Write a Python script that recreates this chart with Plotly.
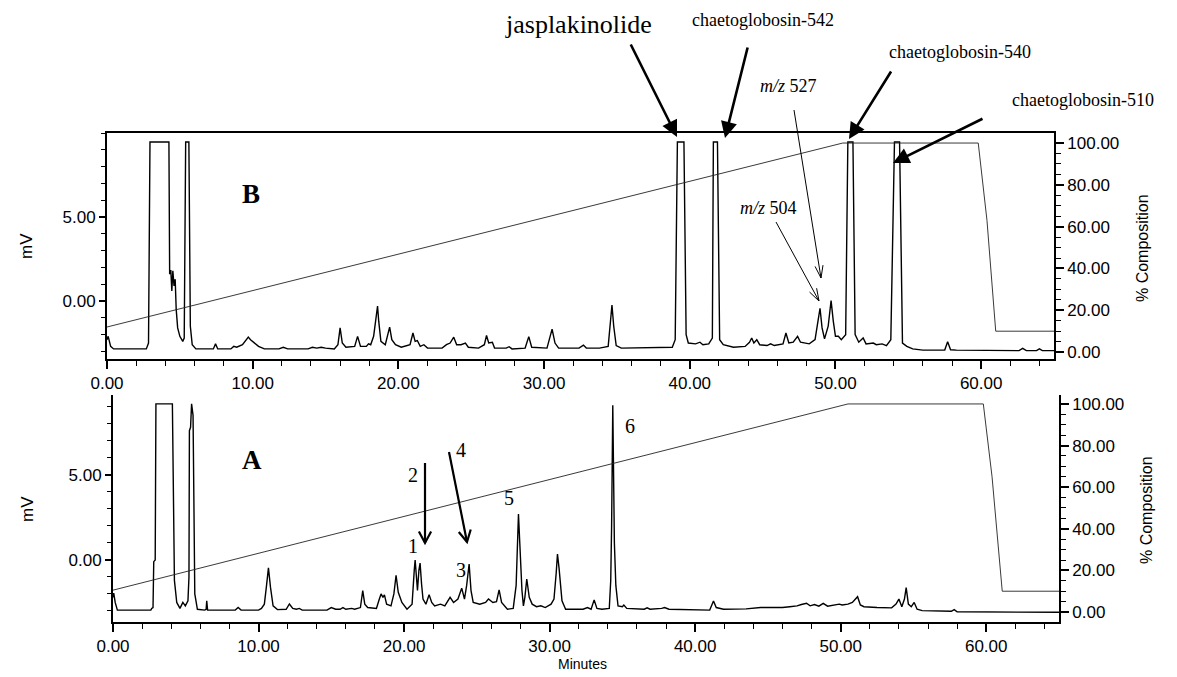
import math
import plotly.graph_objects as go

W, H = 1177, 677

# ---------------- data ----------------
# Panel B chromatogram: retention time (min) and detector response (mV)
b_time = [0.00, 0.08, 0.25, 0.45, 2.70, 2.85, 2.95, 4.25, 4.30, 4.38, 4.45, 4.52, 4.60, 4.68, 4.75, 4.85,
          5.00, 5.20, 5.30, 5.40, 5.62, 5.72, 5.85, 6.10, 7.30, 7.45, 7.60, 8.50, 8.70, 8.90, 9.30, 9.70,
          9.85, 10.10, 10.40, 10.80, 11.80, 12.10, 12.40, 13.80, 14.10, 14.40, 14.70, 15.00, 15.60, 15.85,
          16.00, 16.15, 16.40, 17.00, 17.20, 17.40, 17.80, 17.95, 18.10, 18.30, 18.50, 18.57, 18.65, 18.80,
          19.10, 19.40, 19.55, 19.80, 20.20, 20.80, 21.00, 21.15, 21.30, 21.50, 21.75, 22.00, 23.00, 23.30,
          23.55, 23.80, 24.00, 24.30, 24.60, 24.80, 25.50, 25.90, 26.05, 26.20, 26.45, 26.60, 27.40, 27.60,
          27.80, 28.70, 28.95, 29.15, 30.20, 30.40, 30.55, 30.75, 31.00, 32.40, 32.70, 32.90, 33.80, 34.40,
          34.55, 34.66, 34.78, 34.95, 35.30, 38.80, 39.00, 39.15, 39.60, 39.75, 39.90, 40.40, 40.70, 40.90,
          41.30, 41.55, 41.62, 41.90, 42.05, 42.30, 43.00, 43.80, 44.10, 44.25, 44.40, 44.60, 44.80, 45.30,
          45.55, 45.80, 46.40, 46.60, 46.80, 47.10, 47.40, 47.60, 48.20, 48.60, 48.80, 48.94, 49.08, 49.25,
          49.50, 49.70, 49.85, 50.00, 50.20, 50.40, 50.70, 50.85, 51.20, 51.35, 51.60, 51.90, 52.10, 52.60,
          52.80, 53.20, 53.50, 53.80, 54.05, 54.40, 54.60, 54.90, 55.30, 56.00, 57.50, 57.70, 57.90, 58.30,
          62.60, 62.85, 63.10, 63.80, 64.00, 64.20, 65.00]
b_mv = [-2.30, -2.10, -2.70, -2.85, -2.85, -2.50, 9.46, 9.46, 1.60, 1.85, 0.60, 1.80, 0.90, 1.30, -0.50, -1.60,
        -2.10, -2.40, -2.20, 9.46, 9.46, -1.50, -2.60, -2.85, -2.85, -2.55, -2.85, -2.85, -2.70, -2.75, -2.60, -2.15,
        -2.30, -2.50, -2.70, -2.85, -2.85, -2.75, -2.85, -2.85, -2.75, -2.80, -2.75, -2.80, -2.85, -2.60,
        -1.60, -2.50, -2.75, -2.70, -2.10, -2.70, -2.70, -2.55, -2.60, -2.10, -0.70, -0.30, -1.20, -2.40,
        -2.60, -1.55, -2.30, -2.60, -2.75, -2.60, -1.90, -2.40, -2.35, -2.70, -2.60, -2.80, -2.80, -2.60,
        -2.50, -2.15, -2.60, -2.60, -2.50, -2.75, -2.80, -2.60, -2.05, -2.50, -2.45, -2.80, -2.80, -2.72,
        -2.85, -2.80, -2.12, -2.75, -2.80, -2.20, -1.67, -2.50, -2.80, -2.80, -2.62, -2.80, -2.80, -2.70,
        -1.20, -0.24, -1.50, -2.65, -2.80, -2.75, -2.30, 9.46, 9.46, -2.00, -2.50, -2.55, -2.45, -2.60,
        -2.55, -2.20, 9.46, 9.46, -2.30, -2.60, -2.75, -2.70, -2.45, -2.20, -2.50, -2.30, -2.60, -2.65,
        -2.55, -2.65, -2.55, -1.90, -2.50, -2.45, -2.10, -2.45, -2.55, -2.30, -1.20, -0.43, -1.60, -2.25,
        -1.50, 0.02, -1.20, -2.10, -2.10, -2.30, -2.00, 9.46, 9.46, -2.00, -2.45, -2.20, -2.55, -2.50,
        -2.60, -2.55, -2.65, -2.30, 9.46, 9.46, -2.50, -2.70, -2.85, -2.92, -2.92, -2.42, -2.90, -2.92,
        -2.95, -2.82, -2.95, -2.95, -2.85, -2.95, -2.95]

# Panel A chromatogram
a_time = [0.00, 0.05, 0.15, 0.30, 2.60, 2.66, 2.75, 2.80, 2.90, 2.95, 4.08, 4.15, 4.22, 4.38, 4.60, 4.80,
          4.97, 5.15, 5.22, 5.25, 5.33, 5.40, 5.50, 5.62, 5.80, 6.30, 6.40, 6.44, 6.50, 8.40, 8.60, 8.80,
          10.00, 10.20, 10.40, 10.55, 10.68, 10.82, 11.00, 11.30, 11.90, 12.12, 12.35, 12.60, 12.80, 13.00,
          14.70, 15.00, 15.30, 15.60, 15.80, 16.00, 16.40, 16.60, 17.00, 17.16, 17.30, 17.50, 18.10, 18.30,
          18.42, 18.55, 18.65, 18.80, 19.10, 19.30, 19.45, 19.60, 19.85, 20.20, 20.55, 20.70, 20.76, 20.85,
          20.92, 21.02, 21.10, 21.20, 21.30, 21.50, 21.72, 21.90, 22.10, 22.50, 22.80, 23.16, 23.40, 23.70,
          23.96, 24.15, 24.30, 24.47, 24.60, 24.75, 25.20, 25.60, 25.80, 26.10, 26.35, 26.53, 26.70, 27.10,
          27.50, 27.70, 27.80, 27.86, 27.95, 28.10, 28.20, 28.30, 28.43, 28.60, 28.80, 29.10, 29.40, 29.70,
          30.10, 30.30, 30.45, 30.54, 30.65, 30.85, 31.10, 32.30, 32.60, 32.85, 33.06, 33.25, 33.60, 34.10,
          34.20, 34.26, 34.34, 34.40, 34.45, 34.55, 34.70, 35.00, 35.10, 35.30, 36.50, 36.70, 36.90, 37.70,
          37.90, 38.20, 41.00, 41.26, 41.45, 41.95, 43.50, 44.50, 45.50, 46.00, 46.50, 47.00, 47.30, 47.65,
          47.90, 48.20, 48.50, 48.80, 49.10, 49.50, 49.90, 50.10, 50.50, 50.80, 51.00, 51.16, 51.35, 51.60,
          52.50, 53.50, 53.80, 54.00, 54.20, 54.38, 54.50, 54.65, 54.85, 55.05, 55.25, 55.60, 57.60, 57.80,
          58.00, 60.00, 65.00]
a_mv = [-2.20, -1.95, -2.50, -2.95, -2.95, -2.85, -2.80, -0.10, 0.00, 9.18, 9.18, 2.00, -1.20, -2.50, -2.85, -2.50,
        -2.70, -2.40, -1.00, 7.60, 7.80, 9.18, 8.50, -2.00, -2.90, -2.95, -2.90, -2.40, -2.95, -2.95, -2.80, -2.95,
        -2.95, -2.85, -2.60, -1.50, -0.47, -1.60, -2.70, -2.92, -2.90, -2.59, -2.85, -2.90, -2.85, -2.95,
        -2.95, -2.80, -2.90, -2.90, -2.80, -2.90, -2.85, -2.90, -2.80, -1.80, -2.60, -2.80, -2.85, -2.30,
        -2.00, -2.20, -2.05, -2.60, -2.70, -2.00, -0.90, -1.90, -2.50, -2.90, -2.60, -0.60, 0.00, -1.00,
        -1.80, -0.60, -0.18, -1.40, -2.30, -2.60, -2.05, -2.50, -2.70, -2.60, -2.70, -2.20, -2.50, -2.30,
        -1.66, -2.30, -1.50, -0.24, -1.80, -2.50, -2.60, -2.50, -2.30, -2.50, -2.45, -1.76, -2.50, -2.90,
        -2.85, -1.50, 1.20, 2.70, 1.00, -1.80, -2.70, -2.20, -1.12, -2.20, -2.60, -2.75, -2.70, -2.80,
        -2.60, -2.30, -0.80, 0.35, -0.50, -2.40, -2.90, -2.90, -2.80, -2.90, -2.35, -2.85, -2.90, -2.85,
        -1.20, 2.00, 9.10, 3.00, 1.00, -1.50, -2.70, -2.75, -2.65, -2.85, -2.90, -2.82, -2.90, -2.85,
        -2.80, -2.90, -2.95, -2.41, -2.80, -2.90, -2.88, -2.80, -2.82, -2.80, -2.75, -2.70, -2.62, -2.55,
        -2.70, -2.62, -2.72, -2.55, -2.72, -2.68, -2.60, -2.65, -2.60, -2.50, -2.30, -2.16, -2.65, -2.75,
        -2.80, -2.82, -2.60, -2.30, -2.75, -2.30, -1.63, -2.60, -2.75, -2.50, -2.90, -2.98, -3.02, -2.92,
        -3.05, -3.05, -3.08]

# Solvent gradient (% composition)
grad_b_time = [0.0, 50.5, 59.8, 60.4, 61.0, 65.0]
grad_b_pct = [12.0, 100.0, 100.0, 63.0, 10.0, 10.0]
grad_a_time = [0.0, 50.5, 59.8, 60.4, 61.1, 65.0]
grad_a_pct = [10.5, 100.0, 100.0, 65.0, 10.0, 10.0]

x_ticks = [0, 10, 20, 30, 40, 50, 60]
mv_ticks = [0, 5]
pct_ticks = [0, 20, 40, 60, 80, 100]

# ---------------- figure ----------------
def px(x):
    return x / W

def py(y):
    return 1 - y / H

SANS = "Liberation Sans"
SERIF = "Liberation Serif"
tickfont = dict(family=SANS, size=17, color="black")

fig = go.Figure()
line_kw = dict(color="black", width=1.4)
grad_kw = dict(color="#222222", width=0.9)

fig.add_trace(go.Scatter(x=b_time, y=b_mv, mode="lines", line=line_kw, xaxis="x2", yaxis="y3", showlegend=False))
fig.add_trace(go.Scatter(x=grad_b_time, y=grad_b_pct, mode="lines", line=grad_kw, xaxis="x2", yaxis="y4", showlegend=False))
fig.add_trace(go.Scatter(x=a_time, y=a_mv, mode="lines", line=line_kw, xaxis="x", yaxis="y", showlegend=False))
fig.add_trace(go.Scatter(x=grad_a_time, y=grad_a_pct, mode="lines", line=grad_kw, xaxis="x", yaxis="y2", showlegend=False))

def xax(domain, anchor, mirror):
    return dict(domain=domain, anchor=anchor, range=[0, 65], tickvals=x_ticks, tickformat=".2f",
                ticks="outside", ticklen=8, tickwidth=1.5, tickcolor="black",
                minor=dict(dtick=2, tick0=0, ticks="outside", ticklen=5, tickwidth=1.2, tickcolor="black"),
                showline=True, linecolor="black", linewidth=1.8, mirror=mirror, showgrid=False,
                zeroline=False, tickfont=tickfont, fixedrange=True, automargin=False)

def yleft(domain, anchor, rng):
    return dict(domain=domain, anchor=anchor, range=rng, tickvals=mv_ticks, tickformat=".2f",
                ticks="outside", ticklen=6, tickwidth=1.5, tickcolor="black",
                minor=dict(dtick=1, tick0=0, ticks="outside", ticklen=4, tickwidth=1.2, tickcolor="black"),
                showline=True, linecolor="black", linewidth=1.8, showgrid=False, zeroline=False,
                tickfont=tickfont, fixedrange=True, automargin=False)

def yright(over, anchor, rng):
    return dict(overlaying=over, anchor=anchor, side="right", range=rng, tickvals=pct_ticks, tickformat=".2f",
                ticks="outside", ticklen=8, tickwidth=1.5, tickcolor="black",
                minor=dict(dtick=5, tick0=0, ticks="outside", ticklen=5, tickwidth=1.2, tickcolor="black"),
                showline=True, linecolor="black", linewidth=1.8, showgrid=False, zeroline=False,
                tickfont=tickfont, fixedrange=True, automargin=False)

bx = [px(107), px(1054)]
by = [py(359), py(133)]
ax_ = [px(113), px(1059)]
ay_ = [py(622), py(395)]

fig.update_layout(
    template="none",
    width=W, height=H, margin=dict(l=0, r=0, t=0, b=0, pad=0, autoexpand=False),
    paper_bgcolor="white", plot_bgcolor="white",
    xaxis=xax(ax_, "y", False),
    yaxis=yleft(ay_, "x", [-3.65, 9.7]),
    yaxis2=yright("y", "x", [-4.8, 104.3]),
    xaxis2=xax(bx, "y3", True),
    yaxis3=yleft(by, "x2", [-3.45, 10.0]),
    yaxis4=yright("y3", "x2", [-3.3, 104.8]),
)

ann = []
def text(x, y, s, size, family=SERIF, angle=0):
    ann.append(dict(x=px(x), y=py(y), xref="paper", yref="paper", text=s, showarrow=False,
                    xanchor="center", yanchor="middle", textangle=angle,
                    font=dict(family=family, size=size, color="black")))

# axis titles
text(26, 246, "mV", 17, SANS, -90)
text(27, 509, "mV", 17, SANS, -90)
text(1143, 248, "% Composition", 16, SANS, -90)
text(1147, 510, "% Composition", 16, SANS, -90)
text(582, 664, "Minutes", 14, SANS)

# panel letters
text(251, 194, "<b>B</b>", 27)
text(252, 460, "<b>A</b>", 27)

# compound labels
text(578, 24, "jasplakinolide", 26)
text(763, 20, "chaetoglobosin-542", 18)
text(960, 52, "chaetoglobosin-540", 18)
text(1083, 100, "chaetoglobosin-510", 18)
text(788, 86, "<i>m/z</i> 527", 18)
text(768, 208, "<i>m/z</i> 504", 18)

# peak numbers in A
text(413, 546, "1", 20)
text(413, 475, "2", 20)
text(461, 570, "3", 20)
text(461, 450, "4", 20)
text(509, 498, "5", 20)
text(630, 426, "6", 20)

# filled arrows
def farrow(tail, tip):
    ann.append(dict(x=px(tip[0]), y=py(tip[1]), xref="paper", yref="paper", text="",
                    showarrow=True, arrowhead=2, arrowsize=1.25, arrowwidth=2.6, arrowcolor="black",
                    ax=tail[0] - tip[0], ay=tail[1] - tip[1], standoff=0, startstandoff=0))

farrow((630, 43), (677, 137))
farrow((748, 46), (725, 138))
farrow((892, 70), (849, 139))
farrow((984, 118), (893, 163))

shapes = []
def varrow(tail, tip, width, hl, ang):
    dx, dy = tip[0] - tail[0], tip[1] - tail[1]
    L = math.hypot(dx, dy)
    ux, uy = dx / L, dy / L
    pts = []
    for s in (1, -1):
        a = math.radians(ang) * s
        rx = -(ux * math.cos(a) - uy * math.sin(a))
        ry = -(ux * math.sin(a) + uy * math.cos(a))
        pts.append((tip[0] + hl * rx, tip[1] + hl * ry))
    shapes.append(dict(type="line", xref="paper", yref="paper", x0=px(tail[0]), y0=py(tail[1]),
                       x1=px(tip[0]), y1=py(tip[1]), line=dict(color="black", width=width)))
    path = "M {},{} L {},{} L {},{}".format(px(pts[0][0]), py(pts[0][1]), px(tip[0]), py(tip[1]),
                                             px(pts[1][0]), py(pts[1][1]))
    shapes.append(dict(type="path", xref="paper", yref="paper", path=path,
                       line=dict(color="black", width=width)))

varrow((794, 110), (821, 278), 1.0, 13, 18)
varrow((776, 222), (819, 301), 1.0, 13, 18)
varrow((425, 463), (425, 543), 2.2, 13, 28)
varrow((449, 452), (467, 542), 2.2, 13, 28)

fig.update_layout(annotations=ann, shapes=shapes)
fig.write_html("out.html", config={"displayModeBar": False},
               post_script="document.body.style.margin='0px';document.body.style.overflow='hidden';")
